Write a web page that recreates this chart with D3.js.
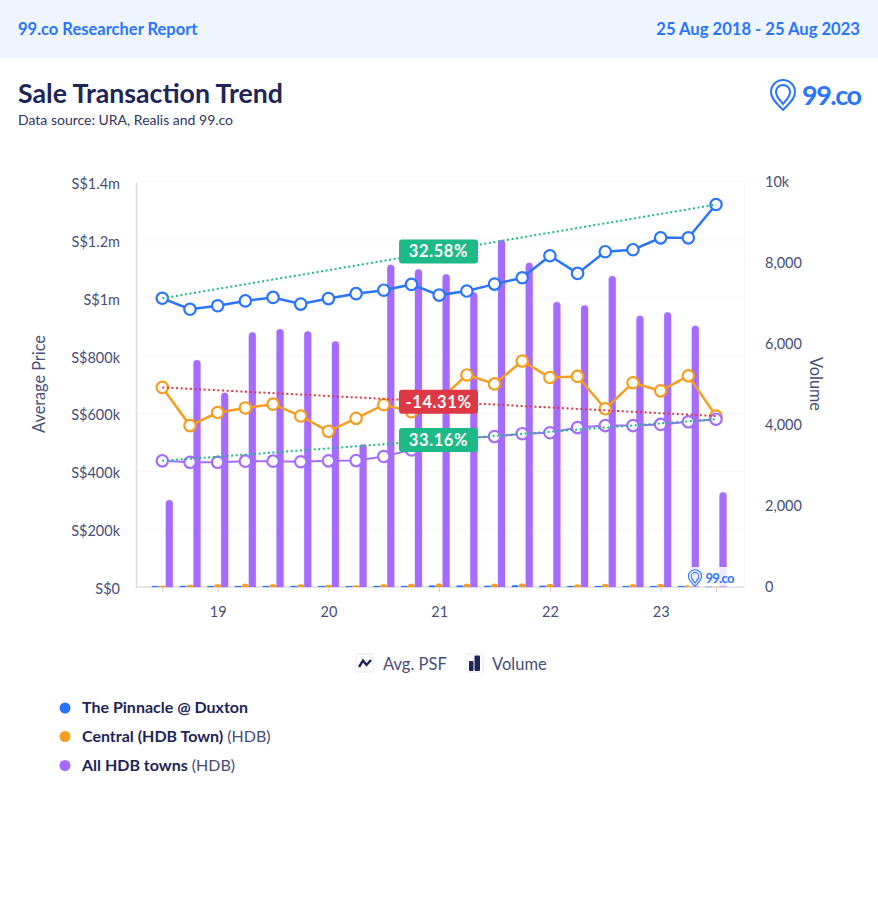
<!DOCTYPE html>
<html>
<head>
<meta charset="utf-8">
<script src="https://cdn.jsdelivr.net/npm/d3@7"></script>
<style>
  html, body { margin: 0; padding: 0; background: #fff; }
  svg { display: block; font-family: Lato, "Open Sans", sans-serif; }
</style>
</head>
<body>
<svg id="chart" width="878" height="900"></svg>
<script>
// Quarterly categories, only the first quarter of each year gets a label
const quarters = ["18Q3","18Q4","19Q1","19Q2","19Q3","19Q4","20Q1","20Q2","20Q3","20Q4","21Q1",
  "21Q2","21Q3","21Q4","22Q1","22Q2","22Q3","22Q4","23Q1","23Q2","23Q3"];
const tickQuarters = ["18Q3","19Q1","20Q1","21Q1","22Q1","23Q1","23Q3"];
const tickLabels = ["","19","20","21","22","23",""];

const pinnaclePrice = [998,960,972,989,1001,978,997,1014,1026,1046,1009,1023,1047,1069,1145,1084,1159,1166,1207,1207,1322];
const centralPrice = [690,558,603,619,632,591,538,583,630,606,646,733,702,781,724,728,616,706,678,730,591];
const allHdbPrice = [436,431,431,435,435,433,436,437,451,474,498,515,520,530,533,551,558,558,562,571,580];

const pinnacleVolume = [22,25,25,25,25,25,22,22,25,25,35,35,30,45,30,25,22,22,22,22,15];
const centralVolume = [25,50,70,80,70,60,50,35,70,80,85,80,80,85,75,60,75,65,75,35,15];
const allHdbVolume = [2148,5605,4798,6288,6370,6313,6066,3523,7958,7844,7721,7276,8568,8007,7037,6955,7679,6699,6783,6452,2338];

const priceTicks = [0,200,400,600,800,1000,1200,1400];
const priceTickLabels = ["S$0","S$200k","S$400k","S$600k","S$800k","S$1m","S$1.2m","S$1.4m"];
const volumeTicks = [0,2000,4000,6000,8000,10000];
const volumeTickLabels = ["0","2,000","4,000","6,000","8,000","10k"];

const trendLabels = ["32.58%","-14.31%","33.16%"];

const navy = "#1e2557";
const axisText = "#484e78";
const blue = "#2a75ff";
const orange = "#f59e1f";
const purple = "#a56cff";
const green = "#1dba87";
const red = "#dd3846";

const svg = d3.select("#chart");

// header band
svg.append("rect").attr("width", 878).attr("height", 58).attr("fill", "#eef5ff");
svg.append("text").attr("x", 18).attr("y", 35).attr("font-size", 16.5).attr("font-weight", 700)
  .attr("fill", blue).text("99.co Researcher Report");
svg.append("text").attr("x", 860).attr("y", 35).attr("text-anchor", "end").attr("font-size", 16.6)
  .attr("font-weight", 700).attr("fill", blue).text("25 Aug 2018 - 25 Aug 2023");

// title
svg.append("text").attr("x", 18).attr("y", 103).attr("font-size", 26.7).attr("font-weight", 700)
  .attr("fill", navy).text("Sale Transaction Trend");
svg.append("text").attr("x", 18).attr("y", 125).attr("font-size", 14)
  .attr("fill", "#2f3562").text("Data source: URA, Realis and 99.co");

const drawLogo = (lx, ly, s, fontSize) => {
  const g = svg.append("g").attr("transform", `translate(${lx},${ly}) scale(${s})`)
    .attr("fill", "none").attr("stroke", blue);
  g.append("path").attr("stroke-width", 2)
    .attr("d", "M0,15 C-4,10 -12,5 -12,-3 A12,12 0 0 1 12,-3 C12,5 4,10 0,15 Z");
  g.append("path").attr("stroke-width", 2)
    .attr("d", "M0,9 C-3,5 -7,2 -7,-3 A7,7 0 0 1 7,-3 C7,2 3,5 0,9 Z");
  svg.append("text").attr("x", lx + 19 * s).attr("y", ly + fontSize * 0.36).attr("font-size", fontSize)
    .attr("font-weight", 700).attr("letter-spacing", -0.055 * fontSize).attr("fill", blue).text("99.co");
};
drawLogo(783, 95, 1, 27);

// chart area
const plotLeft = 136, plotRight = 744, plotTop = 182, plotBottom = 587;
const x = d3.scalePoint().domain(quarters).range([162.3, 716]);
const yPrice = d3.scaleLinear().domain([0, 1400]).range([plotBottom, plotTop]);
const yVolume = d3.scaleLinear().domain([0, 10000]).range([plotBottom, plotTop]);

// faint grid
svg.append("g").selectAll("line").data(priceTicks.slice(1)).join("line")
  .attr("x1", plotLeft).attr("x2", plotRight)
  .attr("y1", d => yPrice(d)).attr("y2", d => yPrice(d))
  .attr("stroke", "#f7f7f9");

// axes
const xAxis = svg.append("g").attr("transform", `translate(0,${plotBottom})`)
  .call(d3.axisBottom(x).tickValues(tickQuarters).tickSize(5).tickPadding(15)
    .tickFormat((d, i) => tickLabels[i]));
const yAxisLeft = svg.append("g").attr("transform", `translate(${plotLeft},0)`)
  .call(d3.axisLeft(yPrice).tickValues(priceTicks).tickSize(0).tickPadding(16)
    .tickFormat((d, i) => priceTickLabels[i]));
const yAxisRight = svg.append("g").attr("transform", `translate(${plotRight},0)`)
  .call(d3.axisRight(yVolume).tickValues(volumeTicks).tickSize(0).tickPadding(21)
    .tickFormat((d, i) => volumeTickLabels[i]));
xAxis.select(".domain").attr("d", `M${plotLeft},0H${plotRight}`).attr("stroke", "#dcdce0").attr("stroke-width", 1.5);
xAxis.selectAll(".tick line").attr("stroke", "#c9cbd6");
yAxisLeft.select(".domain").attr("stroke", "#dcdce0").attr("stroke-width", 1.5);
yAxisRight.select(".domain").attr("stroke", "#f4f4f6");
[xAxis, yAxisLeft, yAxisRight].forEach(a => a.selectAll("text")
  .attr("font-family", "Lato, sans-serif").attr("font-size", 14.5).attr("fill", axisText));
yAxisLeft.selectAll("text").attr("dy", "0.45em");

// axis titles
svg.append("text").attr("transform", "translate(45,384) rotate(-90)").attr("text-anchor", "middle")
  .attr("font-size", 16.3).attr("fill", axisText).text("Average Price");
svg.append("text").attr("transform", "translate(810,384) rotate(90)").attr("text-anchor", "middle")
  .attr("font-size", 16.3).attr("fill", axisText).text("Volume");

// volume bars, rounded at the top
const barPath = (cx, value) => {
  const w = 7, y0 = yVolume(0), y1 = yVolume(value);
  const r = Math.min(w / 2, y0 - y1);
  return `M${cx - w / 2},${y0}V${y1 + r}Q${cx - w / 2},${y1} ${cx - w / 2 + r},${y1}` +
    `H${cx + w / 2 - r}Q${cx + w / 2},${y1} ${cx + w / 2},${y1 + r}V${y0}Z`;
};
const barSeries = [
  { values: pinnacleVolume, color: blue, offset: -7 },
  { values: centralVolume, color: orange, offset: 0 },
  { values: allHdbVolume, color: purple, offset: 7 }
];
barSeries.forEach(s => {
  svg.append("g").selectAll("path").data(s.values).join("path")
    .attr("d", (d, i) => barPath(x(quarters[i]) + s.offset, d))
    .attr("fill", s.color)
    .attr("stroke", s.color).attr("stroke-opacity", 0.25).attr("stroke-width", 1);
});

// watermark over the last bars
svg.append("rect").attr("x", 689).attr("y", 567).attr("width", 46).attr("height", 19.5)
  .attr("fill", "#fff").attr("opacity", 0.85);
drawLogo(695, 578, 0.55, 13);

// price lines, purple last so it sits on top at the final point
const priceLine = d3.line().x((d, i) => x(quarters[i])).y(d => yPrice(d));
const priceSeries = [
  { values: pinnaclePrice, color: blue, width: 2.5 },
  { values: centralPrice, color: orange, width: 2.5 },
  { values: allHdbPrice, color: purple, width: 2 }
];
priceSeries.forEach(s => {
  svg.append("path").attr("d", priceLine(s.values)).attr("fill", "none")
    .attr("stroke", s.color).attr("stroke-width", s.width);
  svg.append("g").selectAll("circle").data(s.values).join("circle")
    .attr("cx", (d, i) => x(quarters[i])).attr("cy", d => yPrice(d)).attr("r", 5.7)
    .attr("fill", "#fff").attr("stroke", s.color).attr("stroke-width", 2.2);
});

// dotted trend lines from first to last value, change label in the middle
const trends = [
  { values: pinnaclePrice, color: green, label: trendLabels[0] },
  { values: centralPrice, color: red, label: trendLabels[1] },
  { values: allHdbPrice, color: green, label: trendLabels[2] }
];
trends.forEach(t => {
  const first = t.values[0], last = t.values[t.values.length - 1];
  svg.append("line")
    .attr("x1", x(quarters[0])).attr("y1", yPrice(first))
    .attr("x2", x(quarters[20])).attr("y2", yPrice(last))
    .attr("stroke", t.color).attr("stroke-width", 2)
    .attr("stroke-dasharray", "2 2.6");
});
trends.forEach(t => {
  const first = t.values[0], last = t.values[t.values.length - 1];
  const cx = 438.5, cy = yPrice((first + last) / 2);
  svg.append("rect").attr("x", cx - 39.5).attr("y", cy - 12).attr("width", 79).attr("height", 24)
    .attr("rx", 3).attr("fill", t.color);
  svg.append("text").attr("x", cx).attr("y", cy + 5.8).attr("text-anchor", "middle")
    .attr("font-size", 16.5).attr("font-weight", 700).attr("letter-spacing", 0.6)
    .attr("fill", "#fff").text(t.label);
});

// legend: chart types
const iconBox = (ix) => svg.append("rect").attr("x", ix).attr("y", 654).attr("width", 17).attr("height", 18)
  .attr("rx", 1.5).attr("fill", "#fff").attr("stroke", "#e6e7ee");
iconBox(356);
svg.append("path").attr("d", "M359,667L363,660.5L366.5,665L371,660").attr("fill", "none")
  .attr("stroke", navy).attr("stroke-width", 2.4);
svg.append("text").attr("x", 383).attr("y", 670).attr("font-size", 16.5).attr("fill", axisText).text("Avg. PSF");
iconBox(466);
svg.append("rect").attr("x", 469).attr("y", 661).attr("width", 4.5).attr("height", 10).attr("rx", 1).attr("fill", navy);
svg.append("rect").attr("x", 474.5).attr("y", 655.5).attr("width", 5.5).attr("height", 15.5).attr("rx", 1).attr("fill", navy);
svg.append("text").attr("x", 492).attr("y", 670).attr("font-size", 16.5).attr("fill", axisText).text("Volume");

// legend: series
const legendNames = ["The Pinnacle @ Duxton", "Central (HDB Town)", "All HDB towns"];
const legendSuffix = ["", " (HDB)", " (HDB)"];
const legendColors = [blue, orange, purple];
const legendY = [708, 736.5, 765.5];
legendNames.forEach((name, i) => {
  svg.append("circle").attr("cx", 65).attr("cy", legendY[i]).attr("r", 5.5).attr("fill", legendColors[i]);
  const t = svg.append("text").attr("x", 82).attr("y", legendY[i] + 5).attr("font-size", 16);
  t.append("tspan").attr("font-weight", 700).attr("fill", navy).text(name);
  t.append("tspan").attr("fill", axisText).text(legendSuffix[i]);
});
</script>
</body>
</html>
